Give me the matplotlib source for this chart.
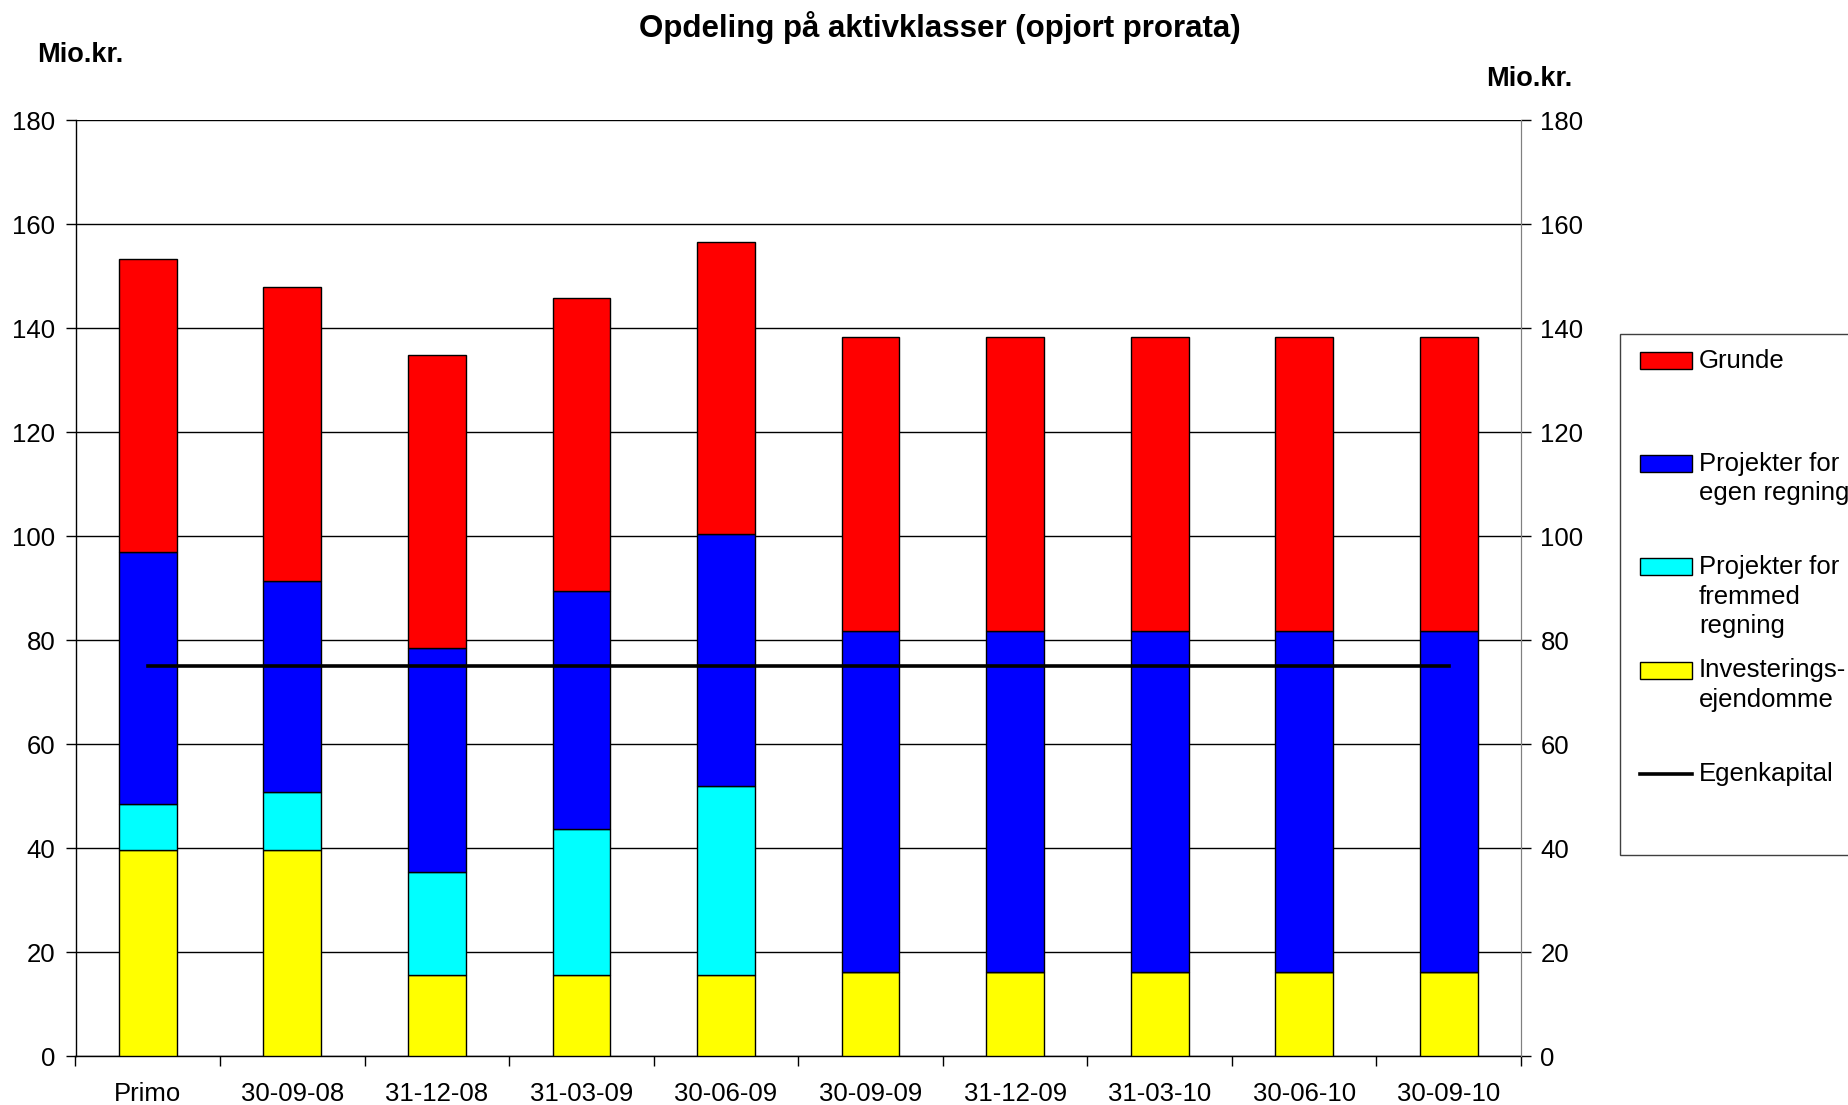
import numpy as np
import matplotlib.pyplot as plt
from matplotlib.patches import Rectangle
from matplotlib.lines import Line2D

plt.rcParams['font.family'] = ['Liberation Sans', 'DejaVu Sans']

# data (Mio.kr.)
categories = ['Primo', '30-09-08', '31-12-08', '31-03-09', '30-06-09',
              '30-09-09', '31-12-09', '31-03-10', '30-06-10', '30-09-10']
investering = [39.6, 39.6, 15.6, 15.6, 15.6, 16.2, 16.2, 16.2, 16.2, 16.2]
fremmed = [8.8, 11.1, 19.7, 28.0, 36.4, 0, 0, 0, 0, 0]
egen = [48.5, 40.7, 43.1, 45.8, 48.3, 65.6, 65.6, 65.6, 65.6, 65.6]
grunde = [56.4, 56.4, 56.5, 56.3, 56.3, 56.4, 56.4, 56.4, 56.4, 56.4]
egenkapital = [75, 75, 75, 75, 75, 75, 75, 75, 75, 75]

legend_labels = ['Grunde', 'Projekter for\negen regning', 'Projekter for\nfremmed\nregning',
                 'Investerings-\nejendomme', 'Egenkapital']
colors = ['#FF0000', '#0000FF', '#00FFFF', '#FFFF00']

W, H = 1849, 1105
fig = plt.figure(figsize=(W / 100, H / 100), dpi=100)
ax = fig.add_axes([75.5 / W, 1 - 1056 / H, (1521 - 75.5) / W, (1056 - 120) / H])

x = np.arange(len(categories))
bw = 0.40
b1 = np.array(investering)
b2 = b1 + np.array(fremmed)
b3 = b2 + np.array(egen)
ax.bar(x, investering, bw, color=colors[3], edgecolor='black', linewidth=1, zorder=3)
ax.bar(x, fremmed, bw, bottom=b1, color=colors[2], edgecolor='black', linewidth=1, zorder=3)
ax.bar(x, egen, bw, bottom=b2, color=colors[1], edgecolor='black', linewidth=1, zorder=3)
ax.bar(x, grunde, bw, bottom=b3, color=colors[0], edgecolor='black', linewidth=1, zorder=3)
ax.plot(x, egenkapital, color='black', linewidth=2.6, zorder=4)

ax.set_xlim(-0.5, len(categories) - 0.5)
ax.set_ylim(0, 180)
ax.set_yticks(np.arange(0, 181, 20))
ax.yaxis.grid(True, color='black', linewidth=1)
ax.set_axisbelow(True)

# Excel style: ticks between categories, labels centred
ax.set_xticks(np.arange(-0.5, len(categories), 1))
ax.set_xticklabels([])
ax.set_xticks(x, minor=True)
ax.set_xticklabels(categories, minor=True, fontsize=18.5)
ax.tick_params(axis='x', which='major', length=7, direction='out', width=1)
ax.tick_params(axis='x', which='minor', length=0, pad=18.5)
ax.tick_params(axis='y', length=7, width=1, labelsize=18.5, pad=7.5)

ax.spines['top'].set_visible(False)
ax.spines['right'].set_color('#808080')
ax.spines['left'].set_linewidth(1)
ax.spines['bottom'].set_linewidth(1)

ax2 = ax.twinx()
ax2.set_ylim(0, 180)
ax2.set_yticks(np.arange(0, 181, 20))
ax2.tick_params(axis='y', length=7, width=1, labelsize=18.5, pad=7)
for s in ['top', 'left', 'bottom']:
    ax2.spines[s].set_visible(False)
ax2.spines['right'].set_color('#808080')

fig.text(940 / W, 1 - 27 / H, 'Opdeling på aktivklasser (opjort prorata)',
         ha='center', va='center', fontsize=22.5, fontweight='bold')
fig.text(37 / W, 1 - 55 / H, 'Mio.kr.', ha='left', va='center', fontsize=19.5, fontweight='bold')
fig.text(1486 / W, 1 - 79 / H, 'Mio.kr.', ha='left', va='center', fontsize=19.5, fontweight='bold')

# legend box drawn by hand (handles sit on the first text line)
fig.patches.append(Rectangle((1620 / W, 1 - 855 / H), 260 / W, (855 - 334) / H,
                             transform=fig.transFigure, facecolor='white',
                             edgecolor='#404040', linewidth=1))
entry_y = [361, 463, 567, 670, 774]
for i, lab in enumerate(legend_labels):
    yy = 1 - entry_y[i] / H
    if i < 4:
        fig.patches.append(Rectangle((1640 / W, yy - 8.5 / H), 52 / W, 17 / H,
                                     transform=fig.transFigure, facecolor=colors[i],
                                     edgecolor='black', linewidth=1))
    else:
        fig.lines.append(Line2D([1640 / W, 1692 / W], [yy, yy], transform=fig.transFigure,
                                color='black', linewidth=2.6))
    fig.text(1699 / W, yy + 11.5 / H, lab, ha='left', va='top', fontsize=18.5, linespacing=1.28)

fig.savefig('out.png', dpi=100)
